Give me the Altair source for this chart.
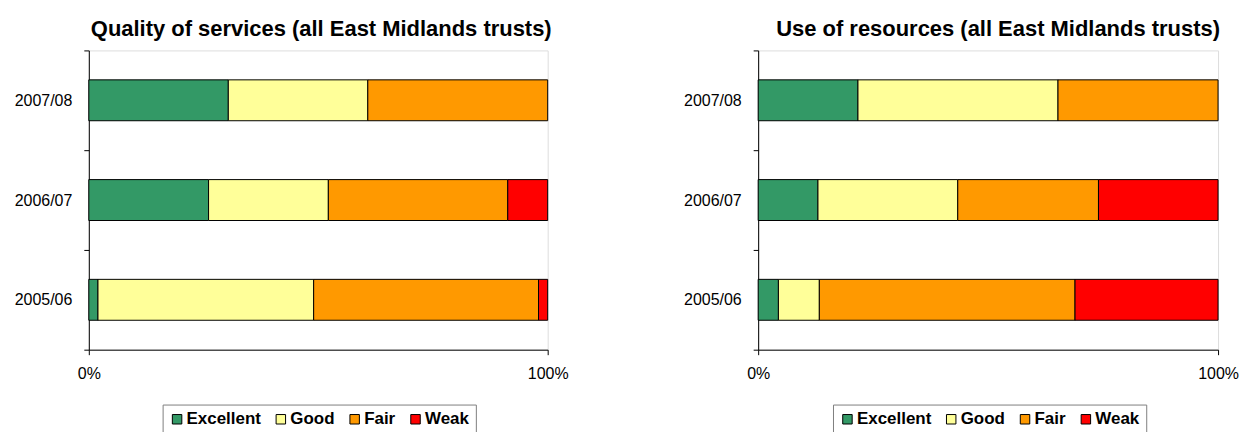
import altair as alt
import pandas as pd

years = ["2007/08", "2006/07", "2005/06"]
ratings = ["Excellent", "Good", "Fair", "Weak"]
colors = ["#339966", "#FFFF99", "#FF9900", "#FF0000"]

# Percentages (rows follow `years`)
quality_excellent = [30.4, 26.1, 2.0]
quality_good = [30.4, 26.1, 47.0]
quality_fair = [39.2, 39.1, 49.0]
quality_weak = [0.0, 8.7, 2.0]

resources_excellent = [21.7, 13.0, 4.4]
resources_good = [43.5, 30.4, 8.9]
resources_fair = [34.8, 30.6, 55.6]
resources_weak = [0.0, 26.0, 31.1]

FONT = "Liberation Sans"


def build(title, series, title_dx, width, legend_x):
    rows = []
    for k, (r, vals) in enumerate(zip(ratings, series)):
        for y, v in zip(years, vals):
            if v > 0:
                rows.append({"year": y, "rating": r, "value": v, "order": k})
    df = pd.DataFrame(rows)
    return (
        alt.Chart(
            df,
            title=alt.TitleParams(
                title, font=FONT, fontSize=22, fontWeight="bold", color="black",
                anchor="middle", offset=1, dx=title_dx,
            ),
        )
        .mark_bar(stroke="black", strokeWidth=1, height=alt.RelativeBandSize(0.41))
        .encode(
            x=alt.X(
                "value:Q", stack="normalize", title=None,
                scale=alt.Scale(domain=[0, 1]),
                axis=alt.Axis(
                    values=[0, 1], format="%", grid=False, domainColor="black",
                    tickColor="black", tickSize=5, labelFont=FONT, labelFontSize=16,
                    labelColor="black", labelPadding=11, labelFlush=False,
                ),
            ),
            y=alt.Y(
                "year:N", sort=years, title=None,
                scale=alt.Scale(paddingInner=0, paddingOuter=0),
                axis=alt.Axis(
                    tickBand="extent", domainColor="black", tickColor="black",
                    tickSize=5, labelFont=FONT, labelFontSize=16, labelColor="black",
                    labelPadding=12, minExtent=80, maxExtent=80,
                ),
            ),
            color=alt.Color(
                "rating:N",
                scale=alt.Scale(domain=ratings, range=colors),
                legend=alt.Legend(
                    orient="none", legendX=legend_x, legendY=355, direction="horizontal",
                    columns=4, title=None, symbolType="square", symbolSize=90,
                    symbolStrokeColor="black", symbolStrokeWidth=1,
                    labelFont=FONT, labelFontSize=17, labelFontWeight="bold",
                    labelColor="black", labelOffset=1, columnPadding=11,
                    strokeColor="#808080", padding=6,
                ),
            ),
            order=alt.Order("order:Q"),
        )
        .properties(width=width, height=300)
    )


left = build("Quality of services (all East Midlands trusts)",
             [quality_excellent, quality_good, quality_fair, quality_weak], 3, 460, 74)
right = build("Use of resources (all East Midlands trusts)",
              [resources_excellent, resources_good, resources_fair, resources_weak], 10, 461, 75)

chart = (
    alt.hconcat(left, right, spacing=109)
    .resolve_scale(color="independent")
    .resolve_legend(color="independent")
    .properties(padding={"top": 9, "left": 0, "right": 0, "bottom": 0})
    .configure_view(stroke="black", strokeWidth=1)
    .configure(font=FONT)
)

chart.save("out.html", embed_options={"renderer": "svg", "actions": False})
